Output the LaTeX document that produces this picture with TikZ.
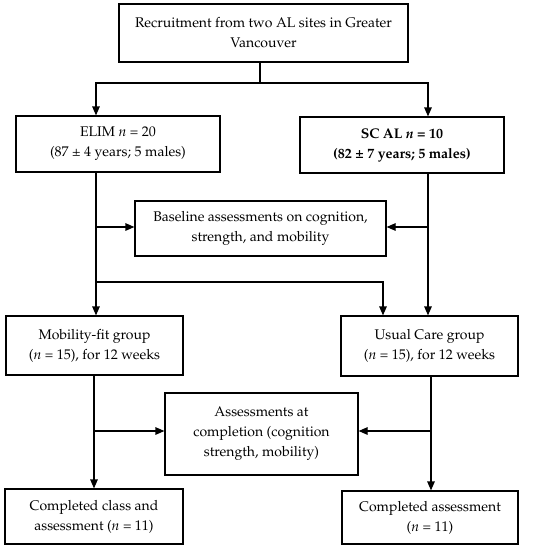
\documentclass[tikz,border=0pt]{standalone}
\usepackage[T1]{fontenc}
\usepackage{mathpazo}
\usetikzlibrary{arrows.meta}
\begin{document}
\begin{tikzpicture}[x=1pt,y=-1pt,
  box/.style={draw,line width=1.2pt,align=center,inner sep=0pt,
    font=\fontsize{14}{20}\selectfont},
  arr/.style={line width=1.2pt,-{Triangle[length=9pt,width=7.5pt]}},
  ln/.style={line width=1.2pt}]
\useasboundingbox (0,0) rectangle (550,549);
\fill[white] (0,0) rectangle (550,549);
\node[box,minimum width=289pt,minimum height=58pt] (top) at (263.5,33) {Recruitment from two AL sites in Greater\\Vancouver};
\node[box,minimum width=204pt,minimum height=56pt] (elim) at (118,144) {ELIM \textit{n} = 20\\(87 \textpm{} 4 years; 5 males)};
\node[box,minimum width=204pt,minimum height=56pt] (scal) at (402,145) {\textbf{SC AL \textit{n} = 10}\\\textbf{(82 \textpm{} 7 years; 5 males)}};
\node[box,minimum width=251pt,minimum height=55pt] (base) at (260.5,228.5) {Baseline assessments on cognition,\\strength, and mobility};
\node[box,minimum width=177pt,minimum height=59pt] (mob) at (94.5,345.5) {Mobility-fit group\\(\textit{n} = 15), for 12 weeks};
\node[box,minimum width=177pt,minimum height=60pt] (uc) at (429.5,346) {Usual Care group\\(\textit{n} = 15), for 12 weeks};
\node[box,minimum width=193pt,minimum height=82pt] (asm) at (261.5,434) {Assessments at\\completion (cognition\\strength, mobility)};
\node[box,minimum width=178pt,minimum height=55pt] (cc) at (94,516.5) {Completed class and\\assessment (\textit{n} = 11)};
\node[box,minimum width=176pt,minimum height=53pt] (ca) at (430,517.5) {Completed assessment\\(\textit{n} = 11)};
% helper coordinates
\coordinate (j) at (260,83);
\coordinate (xl) at (96,0);
\coordinate (xr) at (428,0);
\coordinate (xl2) at (94,0);
\coordinate (xr2) at (431,0);
\coordinate (yb) at (0,227);
\coordinate (ys) at (0,282);
\coordinate (xs) at (383,0);
\coordinate (ya) at (0,431);
% top split
\draw[arr] (top.south -| j) -- (j) -| (elim.north -| xl);
\draw[arr] (j) -| (scal.north -| xr);
% verticals to groups
\draw[arr] (elim.south -| xl) -- (mob.north -| xl);
\draw[arr] (scal.south -| xr) -- (uc.north -| xr);
% baseline arrows
\draw[arr] (xl |- yb) -- (base.west |- yb);
\draw[arr] (xr |- yb) -- (base.east |- yb);
% cross line to usual care
\draw[arr] (xl |- ys) -| (uc.north -| xs);
% lower verticals
\draw[arr] (mob.south -| xl2) -- (cc.north -| xl2);
\draw[arr] (uc.south -| xr2) -- (ca.north -| xr2);
% completion arrows
\draw[arr] (xl2 |- ya) -- (asm.west |- ya);
\draw[arr] (xr2 |- ya) -- (asm.east |- ya);
\end{tikzpicture}
\end{document}
